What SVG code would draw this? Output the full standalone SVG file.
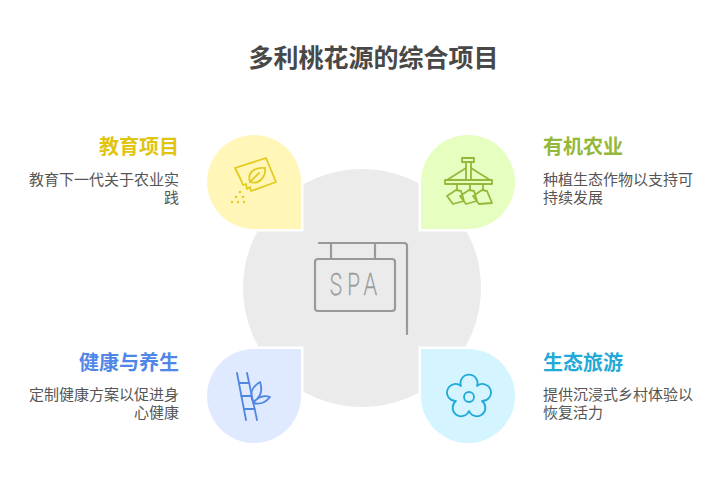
<svg xmlns="http://www.w3.org/2000/svg" width="722" height="499" viewBox="0 0 722 499">
<style>
text{font-family:"Noto Sans CJK SC","Noto Sans",sans-serif}
.t{font-size:25px;font-weight:700;fill:#484848;text-anchor:middle}
.h{font-size:20px;font-weight:700}
.b{font-size:15px;fill:#555}
.r{text-anchor:end}
.drop{stroke:#fff;stroke-width:5;paint-order:stroke}
.i{fill:none;stroke-width:1.8;stroke-linecap:round;stroke-linejoin:round}
.sign{fill:none;stroke:#999;stroke-width:2.2;stroke-linecap:round;stroke-linejoin:round}
</style>
<rect width="722" height="499" fill="#fff"/>
<text class="t" x="373.500" y="67">多利桃花源的综合项目</text>
<g id="center">
<circle cx="362" cy="288" r="119" fill="#ebebeb"/>
<g class="sign">
<path d="M319 243H404Q407 243 407 246V334"/>
<path d="M331 243V259M375 243V259"/>
<rect x="315" y="259" width="80" height="52" rx="3"/>
</g>
<text transform="translate(355.500 295) scale(.72 1)" text-anchor="middle" font-size="30" letter-spacing="6" stroke="#999" stroke-width=".4" style="font-family:Inter,sans-serif;font-weight:200" fill="#999">SPA</text>
</g>
<g id="education">
<path class="drop" d="M301 229H254A47 47 0 1 1 301 182Z" fill="#fff6b8"/>
<g class="i" stroke="#e3cb1e">
<path d="M235 168L266 158L276 182L251 191L250 187L247 189L246 184L243 185L241 180Z"/>
<path d="M250 182C247 173 254 167 265 168C266 177 259 185 250 182ZM250 182L259 173"/>
</g>
<g fill="#e3cb1e"><circle cx="240" cy="192" r="1.200"/><circle cx="236" cy="197" r="1.200"/><circle cx="243" cy="197" r="1.200"/><circle cx="232" cy="202" r="1.200"/><circle cx="238" cy="202" r="1.200"/><circle cx="244" cy="202" r="1.200"/></g>
<text class="h r" x="179" y="154" fill="#e0c40f">教育项目</text>
<text class="b r"><tspan x="179" y="184.500">教育下一代关于农业实</tspan><tspan x="179" y="202.500">践</tspan></text>
</g>
<g id="agriculture">
<path class="drop" d="M421 229V182A47 47 0 1 1 468 229Z" fill="#e6ffc0"/>
<g class="i" stroke="#94b83a">
<path d="M462 158H474V162H462ZM466 162V180M471 162V180"/>
<path d="M447 180L466 168M490 180L471 168"/>
<rect x="445" y="180" width="47" height="4"/>
<path d="M457 184V190M470 184V190M483 184V190"/>
<path d="M456 190L447 196L453 204L464 201L461 191ZM469 190L460 196L466 204L477 201L474 191ZM482 190L473 196L479 204L492 203L487 191Z"/>
</g>
<text class="h" x="543" y="154" fill="#94b83a">有机农业</text>
<text class="b"><tspan x="543" y="184.500">种植生态作物以支持可</tspan><tspan x="543" y="202.500">持续发展</tspan></text>
</g>
<g id="wellness">
<path class="drop" d="M301 349H254A47 47 0 1 0 301 396Z" fill="#dfe9ff"/>
<g class="i" stroke="#4f86e0">
<path d="M237 373L246 420M247 373L257 420M239 383H249M241 396H252M244 409H255"/>
<path d="M253 402C249 393 253 386 260 382C263 391 260 398 253 402ZM253 403C260 405 266 402 270 397C264 395 258 397 253 403Z"/>
</g>
<text class="h r" x="179" y="370" fill="#4f86e8">健康与养生</text>
<text class="b r"><tspan x="179" y="399.500">定制健康方案以促进身</tspan><tspan x="179" y="417.500">心健康</tspan></text>
</g>
<g id="tourism">
<path class="drop" d="M421 349H468A47 47 0 1 1 421 396Z" fill="#d4f4ff"/>
<g class="i" stroke="#22aad8">
<circle cx="469" cy="397" r="5"/>
<path d="M461 386A8.500 8.500 0 1 1 477 386A8.500 8.500 0 1 1 482 401A8.500 8.500 0 1 1 469 411A8.500 8.500 0 1 1 456 401A8.500 8.500 0 1 1 461 386Z"/>
</g>
<text class="h" x="543" y="370" fill="#1faad8">生态旅游</text>
<text class="b"><tspan x="543" y="399.500">提供沉浸式乡村体验以</tspan><tspan x="543" y="417.500">恢复活力</tspan></text>
</g>
<g id="connectors"></g>
</svg>
